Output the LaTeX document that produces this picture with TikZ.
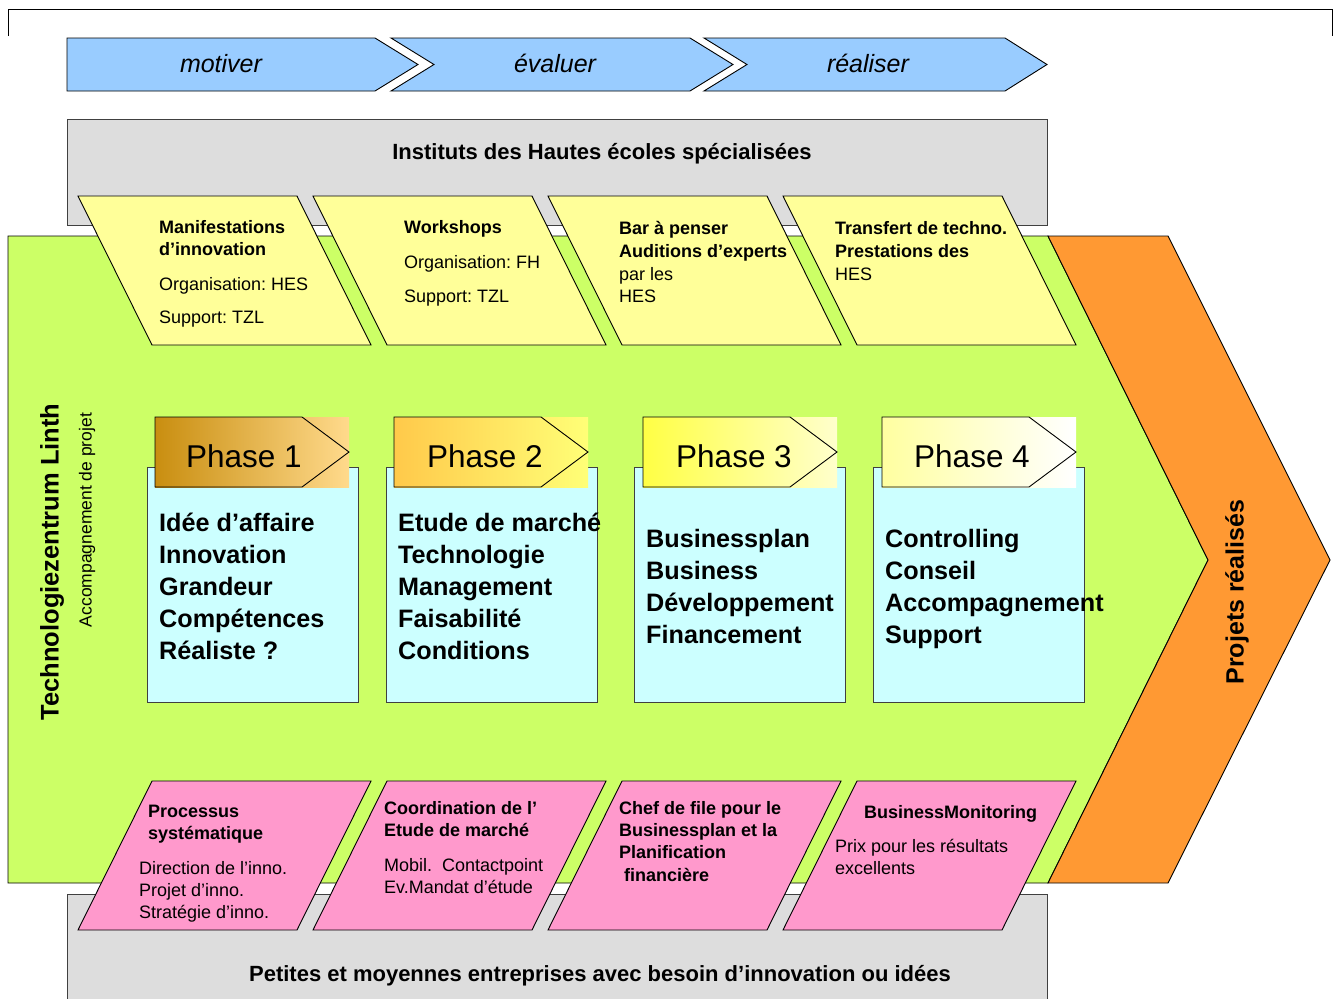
\documentclass[tikz,border=0pt]{standalone}
\usepackage{fontspec}
\setmainfont{Liberation Sans}
\frenchspacing
\definecolor{stepblue}{RGB}{153,204,255}
\definecolor{bandgray}{RGB}{221,221,221}
\definecolor{tzlgreen}{RGB}{204,255,102}
\definecolor{doneorange}{RGB}{255,153,51}
\definecolor{cardyellow}{RGB}{255,255,153}
\definecolor{cardpink}{RGB}{255,153,204}
\definecolor{boxcyan}{RGB}{204,255,255}
\definecolor{phoneleft}{RGB}{201,142,16}
\definecolor{phoneright}{RGB}{255,218,140}
\definecolor{phtwoleft}{RGB}{255,201,74}
\definecolor{phtworight}{RGB}{255,255,119}
\definecolor{phthreeleft}{RGB}{255,255,68}
\definecolor{phthreeright}{RGB}{255,255,204}
\definecolor{phfourleft}{RGB}{255,255,160}
\definecolor{phfourright}{RGB}{255,255,255}
\tikzset{
  outl/.style={draw=black, line width=0.9pt, line join=miter},
  chev/.style={outl, fill=stepblue},
  chevlbl/.style={font=\fontsize{25}{30}\selectfont\itshape, anchor=base, inner sep=0pt},
  band/.style={draw=black!75, line width=0.9pt, fill=bandgray},
  bandlbl/.style={font=\fontsize{22}{26}\selectfont\bfseries, anchor=base, inner sep=0pt},
  topcard/.style={outl, fill=cardyellow},
  botcard/.style={outl, fill=cardpink},
  cardbf/.style={font=\fontsize{18}{21}\selectfont\bfseries, anchor=base west, inner sep=0pt},
  cardrm/.style={font=\fontsize{18}{21}\selectfont, anchor=base west, inner sep=0pt},
  phasebox/.style={draw=black!75, line width=0.9pt, fill=boxcyan},
  phaselbl/.style={font=\fontsize{31.5}{36}\selectfont, anchor=base, inner sep=0pt},
  boxlbl/.style={font=\fontsize{25.2}{29}\selectfont\bfseries, anchor=base west, inner sep=0pt},
  sidelbl/.style={rotate=90, inner sep=0pt},
}

\begin{document}
\begin{tikzpicture}[x=1pt, y=-1pt]
\useasboundingbox (0,0) rectangle (1334,999);

% ============================================================ frame
\draw[black, line width=0.9pt] (8,36) -- (8,9) -- (1332,9) -- (1332,36);

% ============================================================ steps
\draw[chev] (67,38) -- (375,38) -- (418,64.5) -- (375,91) -- (67,91) -- cycle;
\draw[chev] (391,38) -- (690,38) -- (733,64.5) -- (690,91) -- (391,91) -- (434,64.5) -- cycle;
\draw[chev] (704,38) -- (1005,38) -- (1047,64.5) -- (1005,91) -- (704,91) -- (747,64.5) -- cycle;
\node[chevlbl] (motiver) at (221,72) {motiver};
\node[chevlbl] (evaluer) at (555,72) {évaluer};
\node[chevlbl] (realiser) at (868,72) {réaliser};

% ============================================================ bands
\draw[band] (67,119) rectangle (1047,225);
\node[bandlbl] (hes) at (602,159) {Instituts des Hautes écoles spécialisées};
\draw[band] (67,894) rectangle (1047,1010);
\node[bandlbl] (pme) at (600,981) {Petites et moyennes entreprises avec besoin d’innovation ou idées};

% ============================================================ main arrow + result
\draw[outl, fill=tzlgreen] (8,236) -- (1048,236) -- (1208,560) -- (1048,883) -- (8,883) -- cycle;
\draw[outl, fill=doneorange] (1048,236) -- (1168,236) -- (1330,560) -- (1168,883) -- (1048,883) -- (1208,560) -- cycle;
\node[sidelbl, font=\fontsize{25.5}{30}\selectfont\bfseries] (tzl) at (52,562) {Technologiezentrum Linth};
\node[sidelbl, font=\fontsize{17.5}{21}\selectfont] (accomp) at (87,520) {Accompagnement de projet};
\node[sidelbl, font=\fontsize{25}{30}\selectfont\bfseries] (done) at (1237,592) {Projets réalisés};

% ============================================================ top cards (HES)
\draw[topcard] (78,196) -- (297,196) -- (371,345) -- (152,345) -- cycle;
\node[cardbf] (t1a) at (159,233.5) {Manifestations};
\node[cardbf] (t1b) at (159,255.5) {d’innovation};
\node[cardrm] (t1c) at (159,290.5) {Organisation: HES};
\node[cardrm] (t1d) at (159,323.5) {Support: TZL};

\draw[topcard] (313,196) -- (532,196) -- (606,345) -- (387,345) -- cycle;
\node[cardbf] (t2a) at (404,233.5) {Workshops};
\node[cardrm] (t2b) at (404,268.5) {Organisation: FH};
\node[cardrm] (t2c) at (404,302.5) {Support: TZL};

\draw[topcard] (548,196) -- (767,196) -- (841,345) -- (622,345) -- cycle;
\node[cardbf] (t3a) at (619,234.5) {Bar à penser};
\node[cardbf] (t3b) at (619,257.5) {Auditions d’experts};
\node[cardrm] (t3c) at (619,280.5) {par les};
\node[cardrm] (t3d) at (619,302.5) {HES};

\draw[topcard] (783,196) -- (1002,196) -- (1076,345) -- (857,345) -- cycle;
\node[cardbf] (t4a) at (835,234.5) {Transfert de techno.};
\node[cardbf] (t4b) at (835,257.5) {Prestations des};
\node[cardrm] (t4c) at (835,280.5) {HES};

% ============================================================ phases
\draw[phasebox] (147,467) rectangle (358,702);
\shade[left color=phoneleft, right color=phoneright] (155,417) rectangle (349,487);
\draw[outl] (155,417) -- (302,417) -- (349,452) -- (302,487) -- (155,487) -- cycle;
\node[phaselbl] (p1) at (244,467) {Phase 1};
\node[boxlbl] (p1a) at (159,531) {Idée d’affaire};
\node[boxlbl] (p1b) at (159,563) {Innovation};
\node[boxlbl] (p1c) at (159,595) {Grandeur};
\node[boxlbl] (p1d) at (159,627) {Compétences};
\node[boxlbl] (p1e) at (159,659) {Réaliste ?};

\draw[phasebox] (386,467) rectangle (597,702);
\shade[left color=phtwoleft, right color=phtworight] (394,417) rectangle (588,487);
\draw[outl] (394,417) -- (541,417) -- (588,452) -- (541,487) -- (394,487) -- cycle;
\node[phaselbl] (p2) at (485,467) {Phase 2};
\node[boxlbl] (p2a) at (398,531) {Etude de marché};
\node[boxlbl] (p2b) at (398,563) {Technologie};
\node[boxlbl] (p2c) at (398,595) {Management};
\node[boxlbl] (p2d) at (398,627) {Faisabilité};
\node[boxlbl] (p2e) at (398,659) {Conditions};

\draw[phasebox] (634,467) rectangle (845,702);
\shade[left color=phthreeleft, right color=phthreeright] (643,417) rectangle (837,487);
\draw[outl] (643,417) -- (790,417) -- (837,452) -- (790,487) -- (643,487) -- cycle;
\node[phaselbl] (p3) at (734,467) {Phase 3};
\node[boxlbl] (p3a) at (646,547) {Businessplan};
\node[boxlbl] (p3b) at (646,579) {Business};
\node[boxlbl] (p3c) at (646,611) {Développement};
\node[boxlbl] (p3d) at (646,643) {Financement};

\draw[phasebox] (873,467) rectangle (1084,702);
\shade[left color=phfourleft, right color=phfourright] (882,417) rectangle (1076,487);
\draw[outl] (882,417) -- (1029,417) -- (1076,452) -- (1029,487) -- (882,487) -- cycle;
\node[phaselbl] (p4) at (972,467) {Phase 4};
\node[boxlbl] (p4a) at (885,547) {Controlling};
\node[boxlbl] (p4b) at (885,579) {Conseil};
\node[boxlbl] (p4c) at (885,611) {Accompagnement};
\node[boxlbl] (p4d) at (885,643) {Support};

% ============================================================ bottom cards (TZL)
\draw[botcard] (152,781) -- (371,781) -- (297,930) -- (78,930) -- cycle;
\node[cardbf] (b1a) at (148,817.5) {Processus};
\node[cardbf] (b1b) at (148,839.5) {systématique};
\node[cardrm] (b1c) at (139,874.5) {Direction de l’inno.};
\node[cardrm] (b1d) at (139,896.5) {Projet d’inno.};
\node[cardrm] (b1e) at (139,918.5) {Stratégie d’inno.};

\draw[botcard] (387,781) -- (606,781) -- (532,930) -- (313,930) -- cycle;
\node[cardbf] (b2a) at (384,814.5) {Coordination de l’};
\node[cardbf] (b2b) at (384,836.5) {Etude de marché};
\node[cardrm] (b2c) at (384,871.5) {Mobil.\ \ Contactpoint};
\node[cardrm] (b2d) at (384,893.5) {Ev.Mandat d’étude};

\draw[botcard] (622,781) -- (841,781) -- (767,930) -- (548,930) -- cycle;
\node[cardbf] (b3a) at (619,814.5) {Chef de file pour le};
\node[cardbf] (b3b) at (619,836.5) {Businessplan et la};
\node[cardbf] (b3c) at (619,858.5) {Planification};
\node[cardbf] (b3d) at (624,881.5) {financière};

\draw[botcard] (857,781) -- (1076,781) -- (1002,930) -- (783,930) -- cycle;
\node[cardbf] (b4a) at (864,818.5) {BusinessMonitoring};
\node[cardrm] (b4b) at (835,852.5) {Prix pour les résultats};
\node[cardrm] (b4c) at (835,874.5) {excellents};

\end{tikzpicture}
\end{document}
